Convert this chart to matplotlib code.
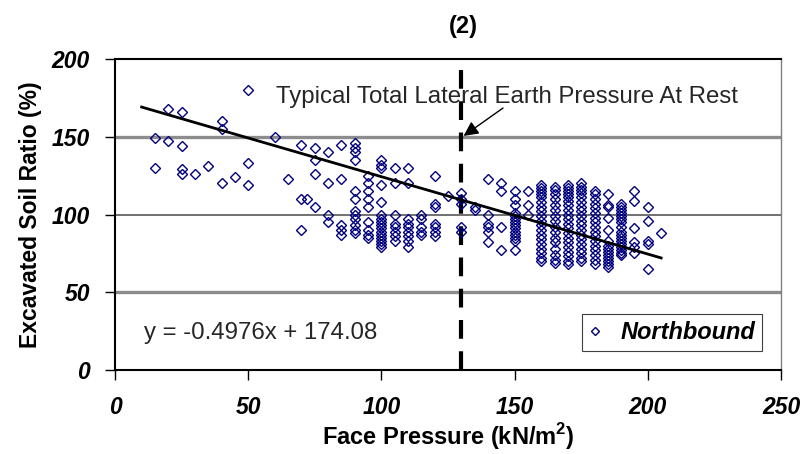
import matplotlib
matplotlib.use("Agg")
import matplotlib.pyplot as plt
import numpy as np

plt.rcParams["font.family"] = ["Liberation Sans", "DejaVu Sans"]
plt.rcParams["mathtext.fontset"] = "custom"
plt.rcParams["mathtext.rm"] = "Liberation Sans"
plt.rcParams["mathtext.bf"] = "Liberation Sans:bold"

# ---- data ----
face_pressure_cols = [15, 20, 25, 30, 35, 40, 45, 50, 60, 65, 70, 72, 75, 80, 85, 90, 95,
                      100, 105, 110, 115, 120, 125, 130, 135, 140, 145, 150, 155, 160,
                      165, 170, 175, 180, 185, 190, 195, 200, 205]
soil_ratio_cols = [
    [149, 130],
    [168, 147],
    [166, 144, 129, 126],
    [126],
    [131],
    [160, 155, 120],
    [124],
    [180, 133, 119],
    [150],
    [123],
    [145, 110, 90],
    [110],
    [143, 135, 126, 105],
    [140, 120, 100, 95],
    [145, 123, 93, 90, 87],
    [146, 143, 140, 135, 115, 110, 102, 100, 97, 93, 90, 88],
    [125, 120, 115, 110, 105, 95, 90, 87, 85],
    [135, 132, 130, 119, 108, 100, 97, 95, 93, 91, 89, 87, 85, 83, 81, 79],
    [130, 120, 100, 94, 92, 89, 86, 83],
    [130, 120, 97, 94, 92, 89, 86, 83, 79],
    [100, 97, 92, 89, 87],
    [125, 107, 105, 94, 92, 89, 86],
    [112],
    [114, 110, 107, 92, 89],
    [105, 103],
    [123, 100, 94, 92, 89, 82],
    [120, 115, 92, 77],
    [115, 110, 106, 101, 99, 97, 95, 93, 91, 89, 87, 85, 83, 77],
    [115, 106, 100],
    [119, 117, 115, 113, 111, 108, 105, 102, 99, 96, 93, 90, 87, 84, 81, 78, 75, 72, 70],
    [118, 116, 113, 110, 106, 103, 99, 96, 92, 89, 85, 82, 78, 74, 71, 69],
    [119, 117, 115, 113, 111, 109, 106, 103, 100, 97, 94, 91, 88, 85, 82, 79, 76, 73, 70, 68],
    [120, 118, 116, 114, 111, 108, 105, 102, 99, 96, 93, 90, 87, 84, 81, 78, 75, 72, 70],
    [115, 113, 110, 107, 104, 101, 98, 95, 92, 89, 86, 83, 80, 77, 74, 71, 68],
    [113, 106, 105, 98, 90, 83, 80, 78, 76, 74, 72, 70, 68, 66],
    [107, 105, 103, 101, 99, 97, 95, 92, 89, 87, 85, 83, 81, 79, 77, 75, 74],
    [115, 109, 91, 82, 79, 75],
    [105, 96, 83, 81, 65],
    [88],
]
series_name = "Northbound"
slope, intercept = -0.4976, 174.08
trend_x = [10, 205]
rest_pressure = 130
x_ticks = [0, 50, 100, 150, 200, 250]
y_ticks = [0, 50, 100, 150, 200]

xs, ys = [], []
for x, col in zip(face_pressure_cols, soil_ratio_cols):
    xs += [x] * len(col)
    ys += col

fig = plt.figure(figsize=(8.11, 4.54), dpi=100)
ax = fig.add_axes([115/811, 1-370/454, (781-115)/811, (370-59)/454])
ax.set_xlim(0, 250)
ax.set_ylim(0, 200)

for g in (50, 150):
    ax.axhline(g, color="#8c8c8c", lw=2.4, zorder=1)
ax.axhline(100, color="#707070", lw=1.4, zorder=1)

ax.plot(xs, ys, linestyle="none", marker="D", markersize=5.5, markerfacecolor="none",
        markeredgecolor="#000080", markeredgewidth=1.0, label=series_name, zorder=3)

tx = np.array(trend_x, dtype=float)
ax.plot(tx, slope * tx + intercept, color="black", lw=2, zorder=4)

ax.axvline(rest_pressure, color="black", lw=3, linestyle=(0, (4.5, 3)), zorder=2)

ax.annotate("", xy=(130, 149.5), xytext=(146.5, 169.5),
            arrowprops=dict(arrowstyle="-|>", color="black", lw=1, mutation_scale=22),
            zorder=5)
ax.text(60.5, 175.5, "Typical Total Lateral Earth Pressure At Rest", fontsize=17.3,
        color="#262626", va="center", ha="left", zorder=5)
ax.text(11, 24, "y = -0.4976x + 174.08", fontsize=17.3, color="#262626",
        va="center", ha="left", zorder=5)

leg = ax.legend(loc="lower right", bbox_to_anchor=((762-115)/666, (370-351)/311),
                frameon=True, fancybox=False, edgecolor="#404040", framealpha=1,
                prop=dict(weight="bold", style="italic", size=17),
                handlelength=0.5, handletextpad=0.8, borderpad=0.3, borderaxespad=0,
                markerscale=0.7)
leg.get_frame().set_linewidth(0.8)

ax.set_xticks(x_ticks)
ax.set_yticks(y_ticks)
ax.set_xticklabels([str(t) for t in x_ticks], fontsize=16.5, fontweight="bold", style="italic")
ax.set_yticklabels([str(t) for t in y_ticks], fontsize=16.5, fontweight="bold", style="italic")
ax.tick_params(axis="both", direction="out", length=7, width=1, color="black")
ax.tick_params(axis="x", pad=12)
ax.tick_params(axis="y", pad=11)

for s in ("left", "bottom", "top"):
    ax.spines[s].set_color("black")
    ax.spines[s].set_linewidth(1.5)
ax.spines["right"].set_color("#808080")
ax.spines["right"].set_linewidth(1.0)

ax.set_xlabel("Face Pressure (kN/m$^{\\mathbf{2}}$)", fontsize=17, fontweight="bold", labelpad=1)
ax.set_ylabel("Excavated Soil Ratio (%)", fontsize=16.5, fontweight="bold", labelpad=7)
fig.text(463/811, 1-27/454, "(2)", fontsize=17, fontweight="bold", ha="center", va="center")

fig.savefig("out.png", dpi=100)
